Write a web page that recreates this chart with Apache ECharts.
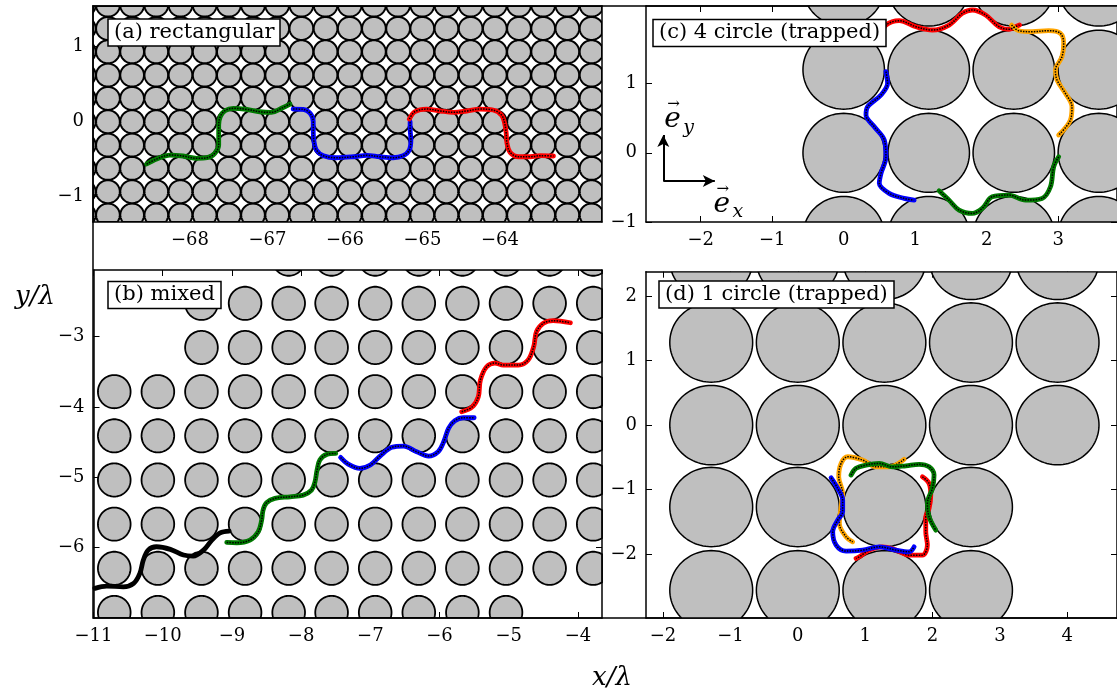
<!DOCTYPE html>
<html><head><meta charset="utf-8">
<script src="https://cdn.jsdelivr.net/npm/echarts@6/dist/echarts.min.js"></script>
<style>html,body{margin:0;padding:0;background:#fff}#c{width:1117px;height:689px}</style>
</head><body><div id="c"></div>
<script>
// ---------- panel (a) rectangular lattice ----------
const colsA = [-69.371,-69.059,-68.747,-68.435,-68.123,-67.811,-67.499,-67.187,-66.875,-66.563,-66.251,-65.939,-65.627,-65.315,-65.003,-64.691,-64.379,-64.067,-63.755,-63.443,-63.131,-62.819,-62.507];
const rowsA = [-1.244,-0.933,-0.622,-0.311,0,0.311,0.622,0.933,1.244,1.555];
const greenAx = [-68.56,-68.43,-68.26,-68.09,-67.91,-67.78,-67.68,-67.63,-67.63,-67.63,-67.61,-67.55,-67.44,-67.27,-67.10,-66.95,-66.82,-66.71];
const greenAy = [-0.564,-0.497,-0.444,-0.457,-0.488,-0.48,-0.421,-0.311,-0.177,-0.044,0.067,0.147,0.179,0.165,0.133,0.125,0.179,0.236];
const blueAx = [-66.67,-66.54,-66.45,-66.41,-66.41,-66.40,-66.37,-66.28,-66.11,-65.89,-65.72,-65.55,-65.38,-65.25,-65.17,-65.15,-65.16,-65.16];
const blueAy = [0.169,0.165,0.112,0.0,-0.133,-0.267,-0.377,-0.453,-0.48,-0.467,-0.448,-0.467,-0.48,-0.453,-0.377,-0.244,-0.088,0.0];
const redAx = [-65.17,-65.10,-64.95,-64.77,-64.60,-64.43,-64.26,-64.09,-63.98,-63.94,-63.92,-63.91,-63.87,-63.76,-63.61,-63.48,-63.31];
const redAy = [0.036,0.133,0.169,0.143,0.125,0.143,0.169,0.156,0.089,-0.021,-0.155,-0.288,-0.408,-0.467,-0.467,-0.453,-0.457];
const ticksAx = [-68,-67,-66,-65,-64];
const ticksAy = [-1,0,1];

// ---------- panel (b) mixed ----------
const colsB = [-10.70,-10.07,-9.44,-8.81,-8.18,-7.56,-6.93,-6.30,-5.67,-5.04,-4.41,-3.78];
const rowsB = [-1.897,-2.525,-3.153,-3.781,-4.409,-5.037,-5.665,-6.293,-6.921];
const rowFirstColB = [4,2,2,0,0,0,0,0,0];
const rowLastColB  = [11,11,11,11,11,11,11,11,9];
const blackBx = [-10.98,-10.81,-10.57,-10.42,-10.33,-10.28,-10.21,-10.09,-9.89,-9.70,-9.56,-9.41,-9.29,-9.17,-9.04];
const blackBy = [-6.579,-6.546,-6.556,-6.508,-6.366,-6.176,-6.034,-5.987,-6.024,-6.105,-6.119,-6.034,-5.892,-5.788,-5.764];
const greenBx = [-9.075,-8.93,-8.74,-8.62,-8.57,-8.55,-8.50,-8.38,-8.16,-7.97,-7.85,-7.80,-7.77,-7.73,-7.63,-7.50];
const greenBy = [-5.925,-5.930,-5.892,-5.774,-5.607,-5.465,-5.361,-5.299,-5.276,-5.252,-5.181,-5.063,-4.896,-4.754,-4.673,-4.659];
const blueBx = [-7.43,-7.32,-7.15,-7.00,-6.86,-6.69,-6.52,-6.33,-6.16,-6.02,-5.94,-5.87,-5.78,-5.66,-5.50];
const blueBy = [-4.716,-4.811,-4.872,-4.825,-4.697,-4.573,-4.555,-4.636,-4.697,-4.636,-4.494,-4.303,-4.195,-4.152,-4.152];
const redBx = [-5.68,-5.53,-5.44,-5.41,-5.32,-5.20,-5.08,-4.86,-4.72,-4.64,-4.60,-4.50,-4.36,-4.11];
const redBy = [-4.067,-4.000,-3.853,-3.616,-3.427,-3.374,-3.403,-3.403,-3.331,-3.142,-2.929,-2.809,-2.772,-2.801];
const ticksBx = [-11,-10,-9,-8,-7,-6,-5,-4];
const ticksBy = [-6,-5,-4,-3];

// ---------- panel (c) 4 circle (trapped) ----------
const colsC = [0,1.19,2.38,3.57];
const rowsC = [-1.2,0,1.2,2.4];
const redCx = [0.544,0.591,0.777,1.010,1.241,1.474,1.660,1.799,1.986,2.172,2.311,2.404,2.460];
const redCy = [1.725,1.845,1.908,1.821,1.773,1.845,2.014,2.062,1.990,1.821,1.783,1.821,1.845];
const orangeCx = [2.349,2.450,2.636,2.869,3.032,3.078,3.054,2.962,2.985,3.102,3.194,3.172,3.008];
const orangeCy = [1.845,1.763,1.749,1.763,1.725,1.581,1.387,1.195,1.051,0.858,0.665,0.473,0.256];
const greenCx = [3.008,2.938,2.893,2.775,2.544,2.311,2.078,1.939,1.799,1.614,1.474,1.334];
const greenCy = [-0.058,-0.202,-0.491,-0.659,-0.684,-0.611,-0.636,-0.803,-0.876,-0.828,-0.684,-0.549];
const blueCx = [0.591,0.614,0.522,0.335,0.312,0.428,0.568,0.591,0.522,0.498,0.637,0.847,0.986];
const blueCy = [1.171,1.003,0.834,0.665,0.545,0.376,0.184,-0.058,-0.298,-0.442,-0.587,-0.659,-0.684];
const ticksCx = [-2,-1,0,1,2,3];
const ticksCy = [-1,0,1];
const arrowOrigin = [-2.524,-0.409];
const arrowTipY = [-2.524,0.256];
const arrowTipX = [-1.803,-0.409];

// ---------- panel (d) 1 circle (trapped) ----------
const colsD = [-1.285,0,1.285,2.57,3.855];
const rowsD = [2.56,1.28,0,-1.27,-2.56];
const rowColCountD = [5,5,5,4,4];
const orangeDx = [1.578,1.357,1.160,0.962,0.740,0.642,0.607,0.666,0.642,0.617,0.716,0.814];
const orangeDy = [-0.532,-0.647,-0.647,-0.543,-0.491,-0.594,-0.802,-1.059,-1.267,-1.524,-1.732,-1.809];
const greenDx = [0.790,0.864,1.012,1.209,1.405,1.604,1.800,1.948,2.022,1.997,1.923,1.948,2.047];
const greenDy = [-0.775,-0.671,-0.620,-0.594,-0.647,-0.631,-0.609,-0.647,-0.775,-0.981,-1.214,-1.422,-1.628];
const redDx = [1.849,1.948,1.973,1.948,1.899,1.899,1.923,1.849,1.652,1.456,1.257,1.061,0.913,0.864];
const redDy = [-0.802,-0.904,-1.085,-1.291,-1.422,-1.654,-1.860,-2.016,-2.016,-1.938,-1.887,-1.938,-2.042,-2.067];
const blueDx = [0.494,0.592,0.666,0.666,0.592,0.518,0.568,0.716,0.962,1.209,1.456,1.652,1.726];
const blueDy = [-0.817,-0.981,-1.163,-1.344,-1.473,-1.654,-1.860,-1.953,-1.938,-1.887,-1.938,-1.964,-1.887];
const ticksDx = [-2,-1,0,1,2,3,4];
const ticksDy = [-2,-1,0,1,2];

// ---------- styling / layout ----------
const FONT = 'DejaVu Serif';
const C = {green:'#007a00', blue:'#0000ff', red:'#ff0000', orange:'#ffa500', black:'#000'};
const grids = [
  {left:93, top:6, width:509, height:216},
  {left:93.5, top:270, width:508.5, height:348},
  {left:646, top:6, width:472.5, height:216},
  {left:646, top:271.7, width:472.5, height:346.3}
];
const xr = [[-69.252,-62.684],[-11,-3.653],[-2.766,3.824],[-2.253,4.737]];
const yr = [[-1.337,1.543],[-7.0,-2.051],[-1.0,2.12],[-2.99,2.377]];
const xt = [ticksAx,ticksBx,ticksCx,ticksDx];
const yt = [ticksAy,ticksBy,ticksCy,ticksDy];

const fmt = v => String(v).replace('-', '\u2212');
const axisLine = {show:true, onZero:false, lineStyle:{color:'#000', width:1.5}};
function mkAxis(i, isX, primary){
  const ticks = isX ? xt[i] : yt[i];
  const r = isX ? xr[i] : yr[i];
  return {
    type:'value', gridIndex:i, min:r[0], max:r[1],
    position: isX ? (primary?'bottom':'top') : (primary?'left':'right'),
    axisLine: axisLine,
    axisTick:{show:true, inside:true, length:6, customValues:ticks, lineStyle:{color:'#000', width:1}},
    axisLabel:{show:primary, customValues:ticks, formatter:fmt, fontFamily:FONT, fontSize:18, color:'#000', margin:9},
    splitLine:{show:false}
  };
}
const xAxes = [], yAxes = [];
for (let i=0;i<4;i++){ xAxes.push(mkAxis(i,true,true)); yAxes.push(mkAxis(i,false,true)); }
for (let i=0;i<4;i++){ xAxes.push(mkAxis(i,true,false)); yAxes.push(mkAxis(i,false,false)); }

// Sutherland-Hodgman clip of a polygon against a pixel rectangle
function clipPoly(pts, x0, y0, x1, y1){
  const tests = [
    [p=>p[0]>=x0, (a,b)=>{const t=(x0-a[0])/(b[0]-a[0]); return [x0, a[1]+t*(b[1]-a[1])];}],
    [p=>p[0]<=x1, (a,b)=>{const t=(x1-a[0])/(b[0]-a[0]); return [x1, a[1]+t*(b[1]-a[1])];}],
    [p=>p[1]>=y0, (a,b)=>{const t=(y0-a[1])/(b[1]-a[1]); return [a[0]+t*(b[0]-a[0]), y0];}],
    [p=>p[1]<=y1, (a,b)=>{const t=(y1-a[1])/(b[1]-a[1]); return [a[0]+t*(b[0]-a[0]), y1];}]
  ];
  let out = pts;
  for (const [inside, inter] of tests){
    const inp = out; out = [];
    if (!inp.length) break;
    for (let i=0;i<inp.length;i++){
      const cur = inp[i], prev = inp[(i+inp.length-1)%inp.length];
      const ci = inside(cur), pi = inside(prev);
      if (ci){ if (!pi) out.push(inter(prev,cur)); out.push(cur); }
      else if (pi) out.push(inter(prev,cur));
    }
  }
  return out;
}

function circleSeries(gi, pts, R, lw){
  const g = grids[gi];
  return {
    type:'custom', xAxisIndex:gi, yAxisIndex:gi, data:pts, clip:true, z:2, silent:true,
    renderItem:(params, api)=>{
      const c = api.coord([api.value(0), api.value(1)]);
      const s = api.size([R, R]);
      const p = [];
      for (let k=0;k<96;k++){ const a=k/96*Math.PI*2; p.push([c[0]+s[0]*Math.cos(a), c[1]+s[1]*Math.sin(a)]); }
      const q = clipPoly(p, g.left, g.top, g.left+g.width, g.top+g.height);
      if (q.length < 3) return null;
      return {type:'polygon', shape:{points:q}, style:{fill:'#bfbfbf', stroke:'#000', lineWidth:lw}};
    }
  };
}
function zip(xs, ys){ return xs.map((x,k)=>[x, ys[k]]); }
function pathSeries(gi, xs, ys, color, overlay, z){
  const d = zip(xs, ys);
  const out = [{type:'line', xAxisIndex:gi, yAxisIndex:gi, data:d, smooth:0.35, symbol:'none', silent:true, z:z,
    lineStyle:{color:color, width:4.8, cap:'round', join:'round'}}];
  if (overlay) out.push({type:'line', xAxisIndex:gi, yAxisIndex:gi, data:d, smooth:0.35, symbol:'none', silent:true, z:z+0.5,
    lineStyle:{color:'#000', width:1.5, type:[1.5,1.2]}});
  return out;
}

const ptsA = []; rowsA.forEach(y=>colsA.forEach(x=>ptsA.push([x,y])));
const ptsB = []; rowsB.forEach((y,r)=>{ for(let k=rowFirstColB[r];k<=rowLastColB[r];k++) ptsB.push([colsB[k],y]); });
const ptsC = []; rowsC.forEach(y=>colsC.forEach(x=>ptsC.push([x,y])));
const ptsD = []; rowsD.forEach((y,r)=>{ for(let k=0;k<rowColCountD[r];k++) ptsD.push([colsD[k],y]); });

const series = [
  circleSeries(0, ptsA, 0.153, 2),
  circleSeries(1, ptsB, 0.236, 1.8),
  circleSeries(2, ptsC, 0.57, 1.5),
  circleSeries(3, ptsD, 0.615, 1.5),
  ...pathSeries(0, greenAx, greenAy, C.green, true, 3),
  ...pathSeries(0, blueAx, blueAy, C.blue, true, 3),
  ...pathSeries(0, redAx, redAy, C.red, true, 3),
  ...pathSeries(1, blackBx, blackBy, C.black, false, 3),
  ...pathSeries(1, greenBx, greenBy, C.green, true, 3),
  ...pathSeries(1, blueBx, blueBy, C.blue, true, 3),
  ...pathSeries(1, redBx, redBy, C.red, true, 3),
  ...pathSeries(2, redCx, redCy, C.red, true, 3),
  ...pathSeries(2, orangeCx, orangeCy, C.orange, true, 3),
  ...pathSeries(2, greenCx, greenCy, C.green, true, 3),
  ...pathSeries(2, blueCx, blueCy, C.blue, true, 3),
  ...pathSeries(3, orangeDx, orangeDy, C.orange, true, 3),
  ...pathSeries(3, redDx, redDy, C.red, true, 4),
  ...pathSeries(3, blueDx, blueDy, C.blue, true, 5),
  ...pathSeries(3, greenDx, greenDy, C.green, true, 6),
  {type:'line', xAxisIndex:2, yAxisIndex:2, data:[], silent:true,
   markLine:{silent:true, symbol:['none','arrow'], symbolSize:[9,12], label:{show:false},
     lineStyle:{color:'#000', width:2, type:'solid'},
     data:[[{coord:arrowOrigin},{coord:arrowTipY}],[{coord:arrowOrigin},{coord:arrowTipX}]]}}
];

const boxStyle = {fontFamily:FONT, fontSize:21, fontWeight:'normal', color:'#000'};
function box(text, left, top){
  return {text:text, left:left, top:top, padding:[3,6], backgroundColor:'#fff', borderColor:'#000', borderWidth:1.5, textStyle:boxStyle, z:10};
}

const chart = echarts.init(document.getElementById('c'), null, {renderer:'canvas'});
chart.setOption({
  animation:false,
  backgroundColor:'#fff',
  grid:grids,
  xAxis:xAxes, yAxis:yAxes,
  title:[box('(a) rectangular',108,19), box('(b) mixed',108,281.5), box('(c) 4 circle (trapped)',653,19.5), box('(d) 1 circle (trapped)',659,281)],
  series:series
});

const o = chart.convertToPixel({gridIndex:2}, [-2.338, 0.50]);
const ox = chart.convertToPixel({gridIndex:2}, [-1.622, -0.727]);
chart.setOption({
  graphic:[
    {type:'rect', silent:true, z:-10, shape:{x:93, y:6, width:1060, height:612}, style:{fill:'none', stroke:'#000', lineWidth:1.5}},
    {type:'text', silent:true, x:35, y:297, style:{text:'y/\u03bb', font:'italic 26px "DejaVu Serif"', fill:'#000', textAlign:'center', textVerticalAlign:'middle'}},
    {type:'text', silent:true, x:612, y:678, style:{text:'x/\u03bb', font:'italic 26px "DejaVu Serif"', fill:'#000', textAlign:'center', textVerticalAlign:'middle'}},
    {type:'text', silent:true, x:o[0]-4, y:o[1]+2, style:{text:'e', font:'italic 28px "DejaVu Serif"', fill:'#000', textAlign:'center', textVerticalAlign:'middle'}},
    {type:'text', silent:true, x:o[0]-3, y:o[1]-14, style:{text:'\u2192', font:'15px "DejaVu Serif"', fill:'#000', textAlign:'center', textVerticalAlign:'middle'}},
    {type:'text', silent:true, x:o[0]+12, y:o[1]+10, style:{text:'y', font:'italic 19px "DejaVu Serif"', fill:'#000', textAlign:'center', textVerticalAlign:'middle'}},
    {type:'text', silent:true, x:ox[0]-6, y:ox[1]+2, style:{text:'e', font:'italic 28px "DejaVu Serif"', fill:'#000', textAlign:'center', textVerticalAlign:'middle'}},
    {type:'text', silent:true, x:ox[0]-5, y:ox[1]-14, style:{text:'\u2192', font:'15px "DejaVu Serif"', fill:'#000', textAlign:'center', textVerticalAlign:'middle'}},
    {type:'text', silent:true, x:ox[0]+10, y:ox[1]+9, style:{text:'x', font:'italic 19px "DejaVu Serif"', fill:'#000', textAlign:'center', textVerticalAlign:'middle'}}
  ]
});
</script></body></html>
